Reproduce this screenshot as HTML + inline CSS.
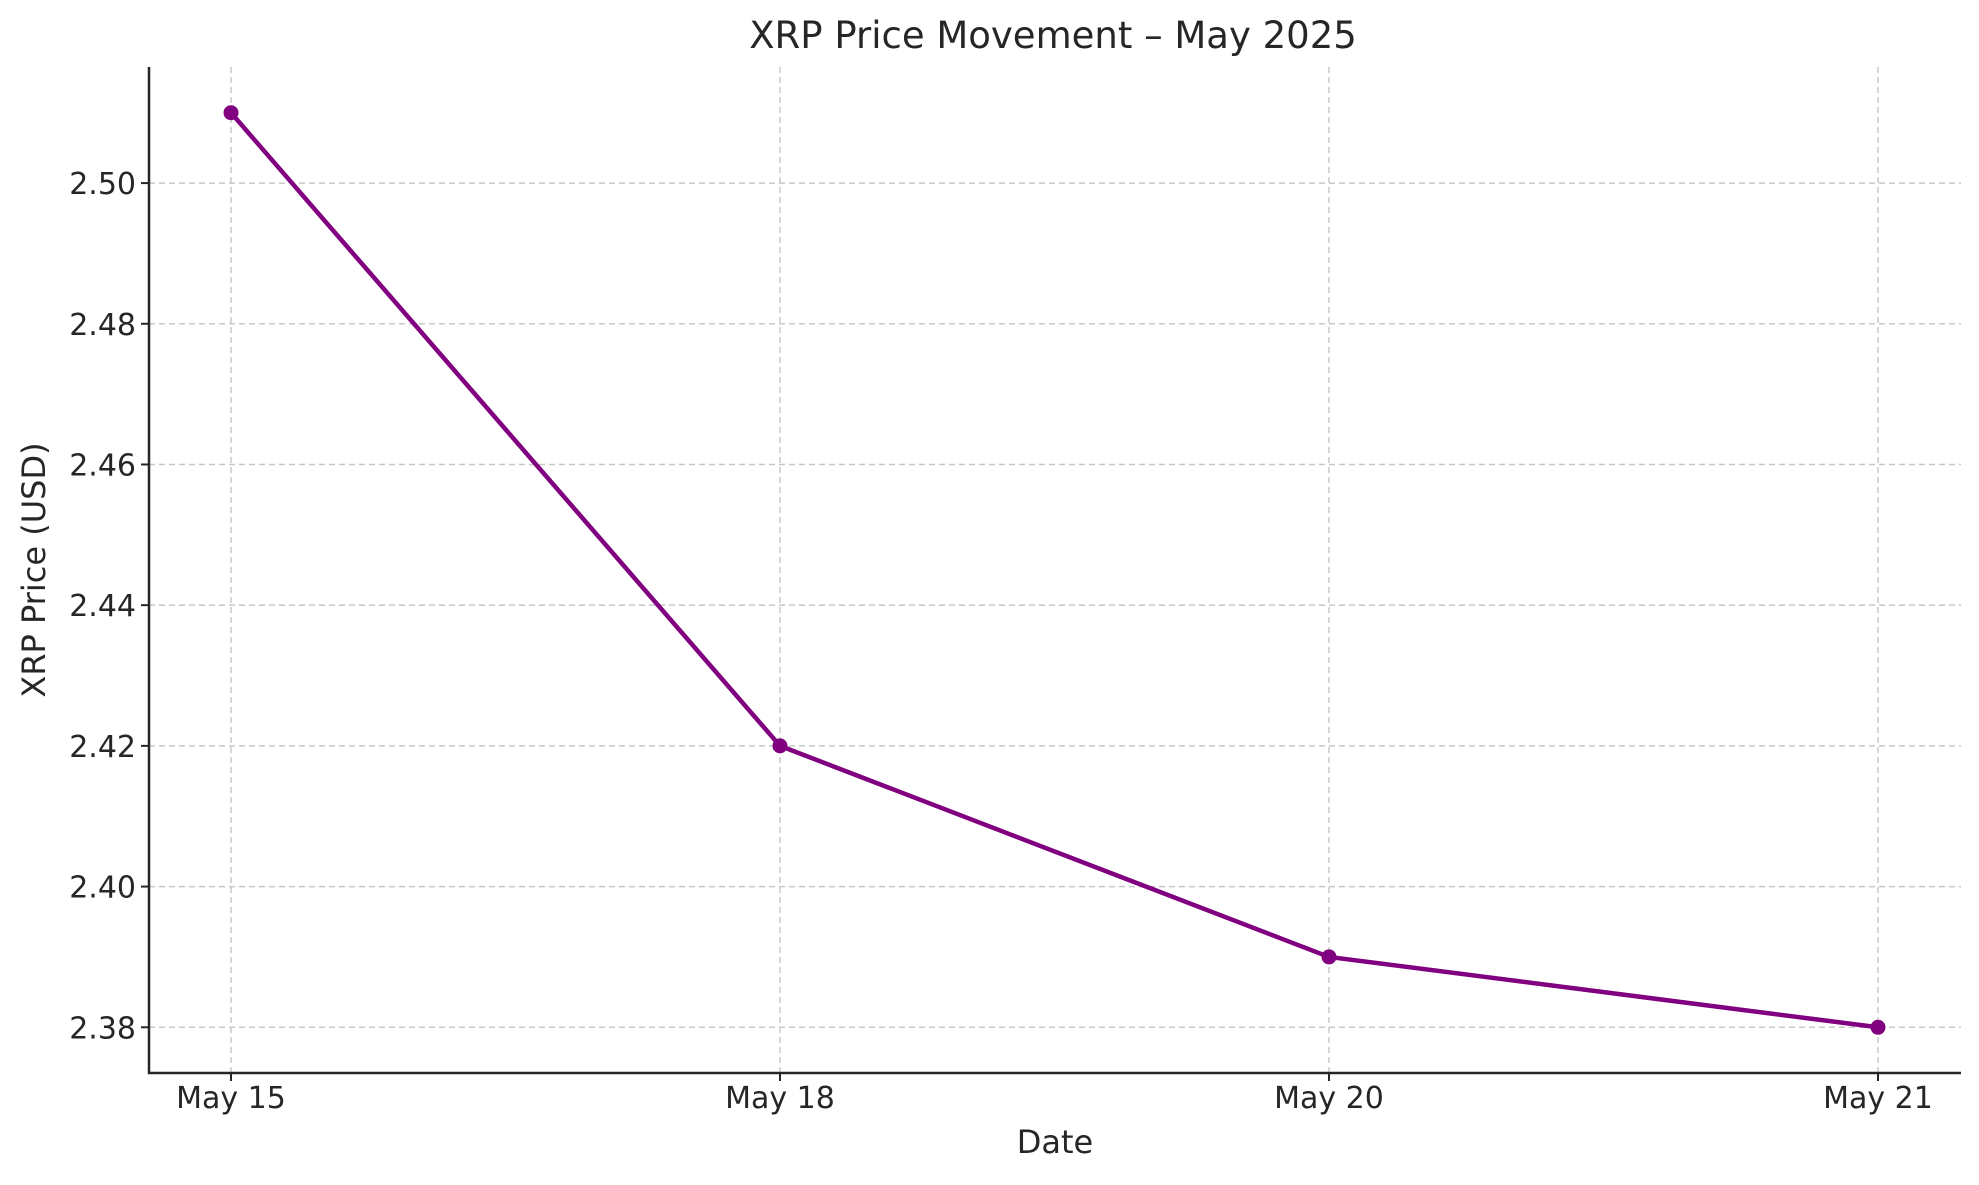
<!DOCTYPE html>
<html><head><meta charset="utf-8"><style>
html,body{margin:0;padding:0;background:#fff}
svg text{font-family:"DejaVu Sans","Liberation Sans",sans-serif;fill:#262626}
</style></head><body>
<svg width="1979" height="1180" viewBox="0 0 1979 1180" xmlns="http://www.w3.org/2000/svg">
<rect width="1979" height="1180" fill="#fff"/>
<g id="grid"></g>
<g id="axes"></g>
<g id="series"></g>
<text x="1053" y="48" text-anchor="middle" font-size="37">XRP Price Movement – May 2025</text>
<text x="1055" y="1153" text-anchor="middle" font-size="32">Date</text>
<text transform="translate(45,570) rotate(-90)" text-anchor="middle" font-size="32">XRP Price (USD)</text>
</svg>
<script>
const categories = ["May 15","May 18","May 20","May 21"];
const prices = [2.51, 2.42, 2.39, 2.38];
const yTicks = [2.38, 2.40, 2.42, 2.44, 2.46, 2.48, 2.50];
const yTickLabels = ["2.38","2.40","2.42","2.44","2.46","2.48","2.50"];

const NS = "http://www.w3.org/2000/svg";
const L = 149, R = 1961, T = 67, B = 1073;
const yMin = 2.3735, yMax = 2.5165;
const x0 = 231, x1 = 1878;
function xPos(i){ return x0 + (x1 - x0) * i / (categories.length - 1); }
function yPos(v){ return T + (yMax - v) / (yMax - yMin) * (B - T); }
function mk(tag, attrs, parent){
  const e = document.createElementNS(NS, tag);
  for (const k in attrs) e.setAttribute(k, attrs[k]);
  parent.appendChild(e);
  return e;
}
const grid = document.getElementById('grid');
const axes = document.getElementById('axes');
const series = document.getElementById('series');

yTicks.forEach((v, i) => {
  const y = yPos(v);
  const g = mk('line', {x1:L, x2:R, y1:y, y2:y, stroke:'#c8c8c8', 'stroke-width':1.5, 'stroke-dasharray':'6,4'}, grid);
  
  
  const t = mk('line', {x1:L-8, x2:L, y1:y, y2:y, stroke:'#262626', 'stroke-width':2}, axes);
  
  
  const lb = mk('text', {x:L-13, y:y+11, 'text-anchor':'end', 'font-size':30}, axes);
  lb.textContent = yTickLabels[i];
  
  
});
categories.forEach((c, i) => {
  const x = xPos(i);
  const g = mk('line', {x1:x, x2:x, y1:T, y2:B, stroke:'#c8c8c8', 'stroke-width':1.5, 'stroke-dasharray':'6,4'}, grid);
  
  
  const t = mk('line', {x1:x, x2:x, y1:B, y2:B+8, stroke:'#262626', 'stroke-width':2}, axes);
  
  
  const lb = mk('text', {x:x, y:B+35, 'text-anchor':'middle', 'font-size':30}, axes);
  lb.textContent = c;
  
  
});
const la = mk('line', {x1:L, x2:L, y1:T, y2:B+1, stroke:'#262626', 'stroke-width':2.5}, axes);


const ba = mk('line', {x1:L-1, x2:R, y1:B, y2:B, stroke:'#262626', 'stroke-width':2.5}, axes);



const pts = prices.map((v, i) => xPos(i) + ',' + yPos(v)).join(' ');
const pl = mk('polyline', {points:pts, fill:'none', stroke:'#800080', 'stroke-width':4.5, 'stroke-linejoin':'round'}, series);


prices.forEach((v, i) => {
  const c = mk('circle', {cx:xPos(i), cy:yPos(v), r:7.5, fill:'#800080'}, series);
  
  
});
</script>
</body></html>
